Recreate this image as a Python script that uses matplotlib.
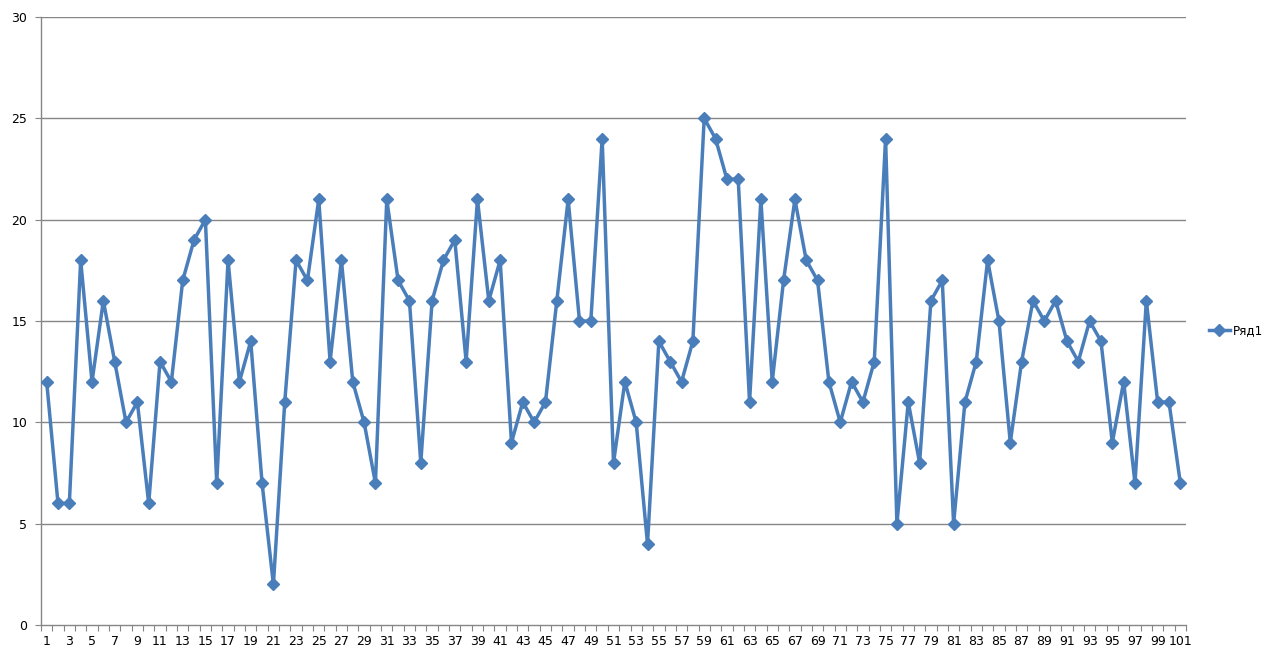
import matplotlib
matplotlib.use("Agg")
import matplotlib.pyplot as plt
import numpy as np

categories = list(range(1, 102))
values = [12, 6, 6, 18, 12, 16, 13, 10, 11, 6,
          13, 12, 17, 19, 20, 7, 18, 12, 14, 7,
          2, 11, 18, 17, 21, 13, 18, 12, 10, 7,
          21, 17, 16, 8, 16, 18, 19, 13, 21, 16,
          18, 9, 11, 10, 11, 16, 21, 15, 15, 24,
          8, 12, 10, 4, 14, 13, 12, 14, 25, 24,
          22, 22, 11, 21, 12, 17, 21, 18, 17, 12,
          10, 12, 11, 13, 24, 5, 11, 8, 16, 17,
          5, 11, 13, 18, 15, 9, 13, 16, 15, 16,
          14, 13, 15, 14, 9, 12, 7, 16, 11, 11, 7]
series_name = "Ряд1"
y_ticks = [0, 5, 10, 15, 20, 25, 30]

color = "#4A7EBB"
grid_c = "#868686"

fig = plt.figure(figsize=(12.70, 6.51), dpi=100)
ax = fig.add_axes([41/1270, 1-625/651, (1186-41)/1270, (625-17)/651])

ax.plot(categories, values, color=color, lw=2.5, marker="D", ms=6.3,
        mec=color, mfc=color, label=series_name, zorder=3)

ax.set_xlim(0.5, len(categories) + 0.5)
ax.set_ylim(0, 30)
ax.set_yticks(y_ticks)
ax.set_yticklabels([str(t) for t in y_ticks], fontsize=9)
for t in y_ticks[1:]:
    ax.axhline(t, color=grid_c, lw=1.0, zorder=1)

# category axis: ticks between categories, labels every second
ax.set_xticks(np.arange(0.5, len(categories) + 1, 1.0), minor=False)
ax.set_xticklabels([])
ax.set_xticks(categories[::2], minor=True)
ax.set_xticklabels([str(c) for c in categories[::2]], minor=True, fontsize=9)
ax.tick_params(axis="x", which="major", length=4, color=grid_c, direction="out")
ax.tick_params(axis="x", which="minor", length=0, pad=7)
ax.tick_params(axis="y", length=4, color=grid_c, direction="out", pad=6)

for s in ["top", "right"]:
    ax.spines[s].set_visible(False)
for s in ["left", "bottom"]:
    ax.spines[s].set_color(grid_c)
    ax.spines[s].set_linewidth(1.0)

leg = fig.legend(loc="center left", bbox_to_anchor=(1209/1270, 1-331/651),
                 frameon=False, fontsize=8.6, handlelength=1.75,
                 handletextpad=0.25, borderaxespad=0, borderpad=0)

fig.savefig("out.png", dpi=100, facecolor="white")
